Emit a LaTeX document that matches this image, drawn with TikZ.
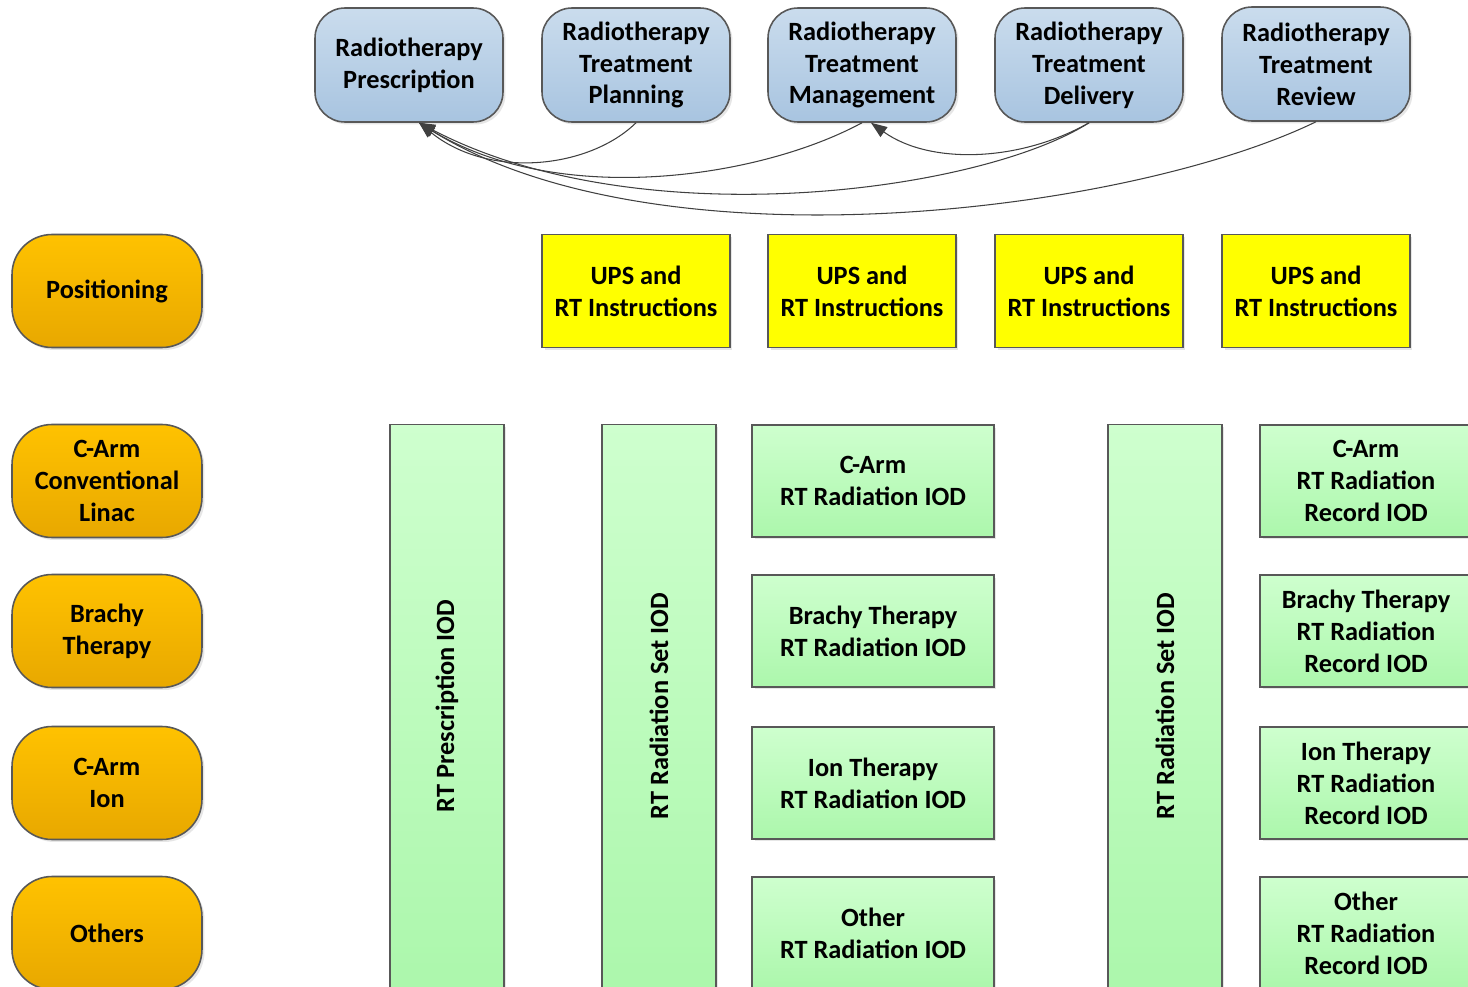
\documentclass[tikz,border=0pt]{standalone}
\usepackage{fontspec}
\setmainfont{Carlito}
\usetikzlibrary{arrows.meta,shadows}
\definecolor{rtBlueTop}{RGB}{202,220,237}
\definecolor{rtBlueBot}{RGB}{168,196,224}
\definecolor{rtOrangeTop}{RGB}{255,194,0}
\definecolor{rtOrangeBot}{RGB}{232,168,0}
\definecolor{rtGreenTop}{RGB}{206,255,206}
\definecolor{rtGreenBot}{RGB}{172,247,172}
\definecolor{rtYellow}{RGB}{255,255,0}
\definecolor{rtEdge}{RGB}{88,88,88}
\definecolor{rtLink}{RGB}{64,64,64}

\begin{document}
\begin{tikzpicture}[
  x=0.02cm, y=-0.02cm,
  base/.style={
    draw=rtEdge,
    line width=0.9pt,
    inner sep=0pt,
    align=center,
    font=\fontsize{15}{18.2}\selectfont\bfseries,
    drop shadow={shadow xshift=0.05cm, shadow yshift=-0.05cm, opacity=0.2}
  },
  activity/.style={base, rounded corners=0.6cm,
    minimum width=3.76cm, minimum height=2.28cm,
    top color=rtBlueTop, bottom color=rtBlueBot},
  modality/.style={base, rounded corners=0.8cm,
    minimum width=3.8cm, minimum height=2.26cm,
    top color=rtOrangeTop, bottom color=rtOrangeBot},
  ups/.style={base, minimum width=3.76cm, minimum height=2.26cm,
    fill=rtYellow},
  iod/.style={base, minimum width=4.84cm, minimum height=2.24cm,
    top color=rtGreenTop, bottom color=rtGreenBot},
  setbox/.style={base, minimum width=2.28cm, minimum height=11.26cm,
    top color=rtGreenTop, bottom color=rtGreenBot},
  vlabel/.style={rotate=90, font=\fontsize{15}{18.2}\selectfont\bfseries},
  reclabel/.style={align=center, font=\fontsize{15}{18.2}\selectfont\bfseries},
  link/.style={rtLink, line width=0.6pt,
    -{Triangle[length=0.32cm,width=0.24cm]}}
]
  \useasboundingbox (0,0) rectangle (1468,987);
  \clip (0,0) rectangle (1468,987);

  % workflow steps
  \node[activity] (presc) at (409,65) {Radiotherapy\\Prescription};
  \node[activity] (plan) at (636,65) {Radiotherapy\\Treatment\\Planning};
  \node[activity] (mgmt) at (862,65) {Radiotherapy\\Treatment\\Management};
  \node[activity] (deliv) at (1089,65) {Radiotherapy\\Treatment\\Delivery};
  \node[activity] (review) at (1316,64) {Radiotherapy\\Treatment\\Review};

  % treatment modalities
  \node[modality] (posit) at (107,291) {Positioning};
  \node[modality] (carm) at (107,481) {C-Arm\\Conventional\\Linac};
  \node[modality] (brachy) at (107,631) {Brachy\\Therapy};
  \node[modality] (ion) at (107,783) {C-Arm\\Ion};
  \node[modality] (others) at (107,933) {Others};

  % UPS
  \node[ups] (upsPlan) at (636,291) {UPS and\\RT Instructions};
  \node[ups] (upsMgmt) at (862,291) {UPS and\\RT Instructions};
  \node[ups] (upsDeliv) at (1089,291) {UPS and\\RT Instructions};
  \node[ups] (upsReview) at (1316,291) {UPS and\\RT Instructions};

  % IODs
  \node[setbox] (prescIod) at (447,706) {};
  \node[vlabel] at (prescIod.center) {RT Prescription IOD};
  \node[setbox] (setPlan) at (659,706) {};
  \node[vlabel] at (setPlan.center) {RT Radiation Set IOD};
  \node[setbox] (setDeliv) at (1165,706) {};
  \node[vlabel] at (setDeliv.center) {RT Radiation Set IOD};

  \node[iod] (radCarm) at (873,481) {C-Arm\\RT Radiation IOD};
  \node[iod] (radBrachy) at (873,631) {Brachy Therapy\\RT Radiation IOD};
  \node[iod] (radIon) at (873,783) {Ion Therapy\\RT Radiation IOD};
  \node[iod] (radOther) at (873,933) {Other\\RT Radiation IOD};

  \node[iod] (recCarm) at (1381,481) {};
  \node[reclabel] at (1366,481) {C-Arm\\RT Radiation\\Record IOD};
  \node[iod] (recBrachy) at (1381,631) {};
  \node[reclabel] at (1366,631) {Brachy Therapy\\RT Radiation\\Record IOD};
  \node[iod] (recIon) at (1381,783) {};
  \node[reclabel] at (1366,783) {Ion Therapy\\RT Radiation\\Record IOD};
  \node[iod] (recOther) at (1381,933) {};
  \node[reclabel] at (1366,933) {Other\\RT Radiation\\Record IOD};

  % feedback links
  \draw[link] (plan.south) .. controls (590,168) and (490,180) .. ([xshift=0.2cm]presc.south);
  \draw[link] (mgmt.south) .. controls (760,178) and (560,208) .. ([xshift=0.2cm]presc.south);
  \draw[link] (deliv.south) .. controls (980,192) and (640,238) .. ([xshift=0.2cm]presc.south);
  \draw[link] (review.south) .. controls (1130,212) and (660,272) .. ([xshift=0.2cm]presc.south);
  \draw[link] (deliv.south) .. controls (1020,162) and (930,165) .. ([xshift=0.18cm]mgmt.south);
\end{tikzpicture}
\end{document}
